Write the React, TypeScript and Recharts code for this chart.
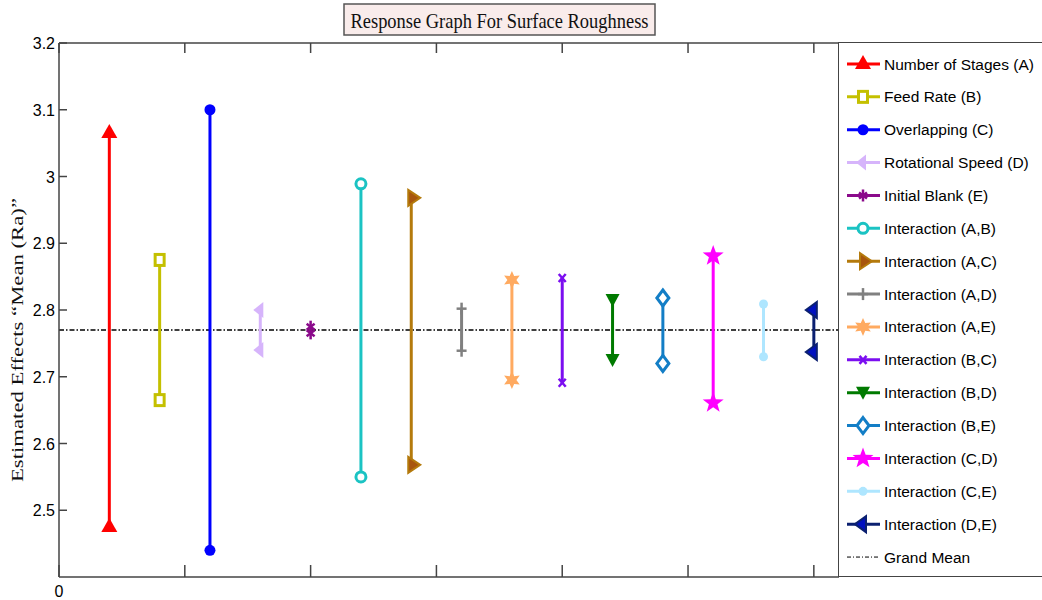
import React from 'react';
import { ScatterChart, Scatter, XAxis, YAxis, ReferenceLine } from 'recharts';

// effects in plot order, x position = index on the effects axis
const effectNames = [
  'Number of Stages (A)',
  'Feed Rate (B)',
  'Overlapping (C)',
  'Rotational Speed (D)',
  'Initial Blank (E)',
  'Interaction (A,B)',
  'Interaction (A,C)',
  'Interaction (A,D)',
  'Interaction (A,E)',
  'Interaction (B,C)',
  'Interaction (B,D)',
  'Interaction (B,E)',
  'Interaction (C,D)',
  'Interaction (C,E)',
  'Interaction (D,E)',
];
const effectPositions = [1, 2, 3, 4, 5, 6, 7, 8, 9, 10, 11, 12, 13, 14, 15];
const upperMeans = [3.065, 2.875, 3.1, 2.8, 2.775, 2.989, 2.968, 2.802, 2.845, 2.848, 2.815, 2.818, 2.881, 2.809, 2.8];
const lowerMeans = [2.475, 2.665, 2.44, 2.74, 2.765, 2.55, 2.568, 2.739, 2.695, 2.691, 2.725, 2.72, 2.661, 2.73, 2.737];
const grandMean = 2.77;

const yTicks = [2.5, 2.6, 2.7, 2.8, 2.9, 3, 3.1, 3.2];
const xTicks = [0, 2.5, 5, 7.5, 10, 12.5, 15];
const xLabels = ['0', '', '', '', '', '', ''];

const COLORS = [
  '#ff0000', '#c4c000', '#0000ff', '#d6b4fb', '#8b0a8b',
  '#1bc3c3', '#b47a0c', '#808080', '#ffaa60', '#7b0ef0',
  '#007a00', '#137ec6', '#ff00ff', '#aee6ff', '#0b2070',
];
const MARKERS = [
  'triUp', 'square', 'dot', 'triLeft', 'asterisk',
  'circle', 'triRight', 'plus', 'hexagram', 'cross',
  'triDown', 'diamond', 'pentagram', 'smallDot', 'triLeftDark',
];

const AXIS = '#444';
const SANS = 'Arial, "Liberation Sans", sans-serif';
const SERIF = '"Times New Roman", "Liberation Serif", serif';

const starPoints = (cx: number, cy: number, n: number, ro: number, ri: number) => {
  const pts: string[] = [];
  for (let i = 0; i < n * 2; i++) {
    const r = i % 2 === 0 ? ro : ri;
    const a = -Math.PI / 2 + (i * Math.PI) / n;
    pts.push(`${cx + r * Math.cos(a)},${cy + r * Math.sin(a)}`);
  }
  return pts.join(' ');
};

const Marker = ({ kind, cx, cy, color }: { kind: string; cx: number; cy: number; color: string }) => {
  switch (kind) {
    case 'triUp':
      return <polygon points={`${cx},${cy - 9} ${cx - 8},${cy + 5} ${cx + 8},${cy + 5}`} fill={color} />;
    case 'square':
      return <rect x={cx - 4.5} y={cy - 5.5} width={9} height={11} fill="#fff" stroke={color} strokeWidth={3} />;
    case 'dot':
      return <circle cx={cx} cy={cy} r={5.5} fill={color} />;
    case 'triLeft':
      return <polygon points={`${cx - 7},${cy} ${cx + 3},${cy - 8} ${cx + 3},${cy + 8}`} fill={color} />;
    case 'asterisk':
      return (
        <g stroke={color} strokeWidth={2.5}>
          <line x1={cx} y1={cy - 6} x2={cx} y2={cy + 6} />
          <line x1={cx - 4} y1={cy - 3} x2={cx + 4} y2={cy + 3} />
          <line x1={cx - 4} y1={cy + 3} x2={cx + 4} y2={cy - 3} />
        </g>
      );
    case 'circle':
      return <circle cx={cx} cy={cy} r={5} fill="#fff" stroke={color} strokeWidth={3} />;
    case 'triRight':
      return (
        <polygon
          points={`${cx + 9},${cy} ${cx - 3},${cy - 8} ${cx - 3},${cy + 8}`}
          fill="#a8560e"
          stroke={color}
          strokeWidth={2}
        />
      );
    case 'plus':
      return (
        <g stroke={color} strokeWidth={2.5}>
          <line x1={cx - 5} y1={cy} x2={cx + 5} y2={cy} />
          <line x1={cx} y1={cy - 6} x2={cx} y2={cy + 6} />
        </g>
      );
    case 'hexagram':
      return <polygon points={starPoints(cx, cy, 6, 9, 4.5)} fill={color} />;
    case 'cross':
      return (
        <g stroke={color} strokeWidth={2.5}>
          <line x1={cx - 3.5} y1={cy - 4} x2={cx + 3.5} y2={cy + 4} />
          <line x1={cx - 3.5} y1={cy + 4} x2={cx + 3.5} y2={cy - 4} />
        </g>
      );
    case 'triDown':
      return <polygon points={`${cx - 7},${cy - 6} ${cx + 7},${cy - 6} ${cx},${cy + 7}`} fill={color} />;
    case 'diamond':
      return (
        <polygon
          points={`${cx},${cy - 8} ${cx + 6},${cy} ${cx},${cy + 8} ${cx - 6},${cy}`}
          fill="#fff"
          stroke={color}
          strokeWidth={3}
        />
      );
    case 'pentagram':
      return <polygon points={starPoints(cx, cy, 5, 11, 4.5)} fill={color} />;
    case 'smallDot':
      return <circle cx={cx} cy={cy} r={4.5} fill={color} />;
    case 'triLeftDark':
      return (
        <polygon
          points={`${cx - 8},${cy} ${cx + 3},${cy - 8} ${cx + 3},${cy + 8}`}
          fill="#0010c0"
          stroke={color}
          strokeWidth={2}
        />
      );
    default:
      return null;
  }
};

const BottomTick = (props: any) => {
  const { x, y, index } = props;
  return (
    <g>
      <line x1={x} y1={y} x2={x} y2={y - 12} stroke={AXIS} strokeWidth={1.5} />
      <text x={x} y={y + 20} textAnchor="middle" fontSize={16} fontFamily={SANS} fill="#000">
        {xLabels[index]}
      </text>
    </g>
  );
};

const TopTick = (props: any) => {
  const { x, y } = props;
  return <line x1={x} y1={y} x2={x} y2={y + 10} stroke={AXIS} strokeWidth={1.5} />;
};

const LeftTick = (props: any) => {
  const { x, y, payload } = props;
  return (
    <g>
      <line x1={x} y1={y} x2={x + 8} y2={y} stroke={AXIS} strokeWidth={1.5} />
      <text x={x - 4} y={y + 6} textAnchor="end" fontSize={16} fontFamily={SANS} fill="#000">
        {payload.value}
      </text>
    </g>
  );
};

const ROW_GAP = 32.87;

const LegendBox = () => (
  <div
    style={{
      position: 'absolute',
      left: 838,
      top: 42,
      width: 230,
      height: 535,
      boxSizing: 'border-box',
      border: `1.5px solid ${AXIS}`,
      background: '#fff',
    }}
  >
    <svg width={230} height={535} style={{ position: 'absolute', left: -1.5, top: -1.5 }}>
      {effectNames.map((name, i) => {
        const cy = 22 + i * ROW_GAP;
        return (
          <g key={name}>
            <line x1={9} y1={cy} x2={42} y2={cy} stroke={COLORS[i]} strokeWidth={3} />
            <Marker kind={MARKERS[i]} cx={25} cy={cy} color={COLORS[i]} />
            <text x={46} y={cy + 5.5} fontSize={15.5} fontFamily={SANS} fill="#000">
              {name}
            </text>
          </g>
        );
      })}
      <line
        x1={9}
        y1={22 + 15 * ROW_GAP}
        x2={42}
        y2={22 + 15 * ROW_GAP}
        stroke="#000"
        strokeWidth={1}
        strokeDasharray="4 2 1 2"
      />
      <text x={46} y={22 + 15 * ROW_GAP + 5.5} fontSize={15.5} fontFamily={SANS} fill="#000">
        Grand Mean
      </text>
    </svg>
  </div>
);

const App = () => (
  <div style={{ position: 'absolute', left: 0, top: 0, width: 1042, height: 600, background: '#fff' }}>
    <ScatterChart width={1042} height={600} margin={{ top: 42, right: 203, bottom: 0, left: 0 }}>
      <XAxis
        type="number"
        dataKey="x"
        domain={[0, 15.5]}
        ticks={xTicks}
        allowDataOverflow
        height={23}
        tickSize={0}
        tickMargin={0}
        tickLine={false}
        tick={<BottomTick />}
        axisLine={{ stroke: AXIS, strokeWidth: 1.5 }}
      />
      <XAxis
        xAxisId="top"
        orientation="top"
        type="number"
        dataKey="x"
        domain={[0, 15.5]}
        ticks={xTicks}
        allowDataOverflow
        height={1}
        tickSize={0}
        tickMargin={0}
        tickLine={false}
        tick={<TopTick />}
        axisLine={{ stroke: AXIS, strokeWidth: 1.5 }}
      />
      <YAxis
        type="number"
        dataKey="y"
        domain={[2.4, 3.2]}
        ticks={yTicks}
        allowDataOverflow
        width={59}
        tickSize={0}
        tickMargin={0}
        tickLine={false}
        tick={<LeftTick />}
        axisLine={{ stroke: AXIS, strokeWidth: 1.5 }}
      />
      {/* invisible copy of the first effect so the top frame axis gets a scale */}
      <Scatter
        xAxisId="top"
        data={[{ x: effectPositions[0], y: upperMeans[0] }]}
        shape={() => <g />}
        legendType="none"
        isAnimationActive={false}
      />
      {effectNames.map((name, i) => (
        <Scatter
          key={name}
          name={name}
          data={[
            { x: effectPositions[i], y: upperMeans[i] },
            { x: effectPositions[i], y: lowerMeans[i] },
          ]}
          fill={COLORS[i]}
          line={{ stroke: COLORS[i], strokeWidth: 3 }}
          lineType="joint"
          shape={(p: any) => <Marker kind={MARKERS[i]} cx={p.cx} cy={p.cy} color={COLORS[i]} />}
          isAnimationActive={false}
        />
      ))}
      <ReferenceLine y={grandMean} stroke="#000" strokeWidth={1.5} strokeDasharray="5 2 1.5 2" />
    </ScatterChart>
    <LegendBox />
    <svg width={1042} height={600} style={{ position: 'absolute', left: 0, top: 0, pointerEvents: 'none' }}>
      <rect x={344} y={4} width={311} height={31} fill="#f9eceb" stroke="#555" strokeWidth={1.5} />
      <text
        x={499.5}
        y={28}
        textAnchor="middle"
        fontSize={21}
        fontFamily={SERIF}
        fill="#111"
        textLength={298}
        lengthAdjust="spacingAndGlyphs"
      >
        Response Graph For Surface Roughness
      </text>
      <text
        transform="translate(23,340) rotate(-90)"
        textAnchor="middle"
        fontSize={17}
        fontFamily={SERIF}
        fill="#111"
        textLength={284}
        lengthAdjust="spacingAndGlyphs"
      >
        Estimated Effects “Mean (Ra)”
      </text>
    </svg>
  </div>
);

export default App;
